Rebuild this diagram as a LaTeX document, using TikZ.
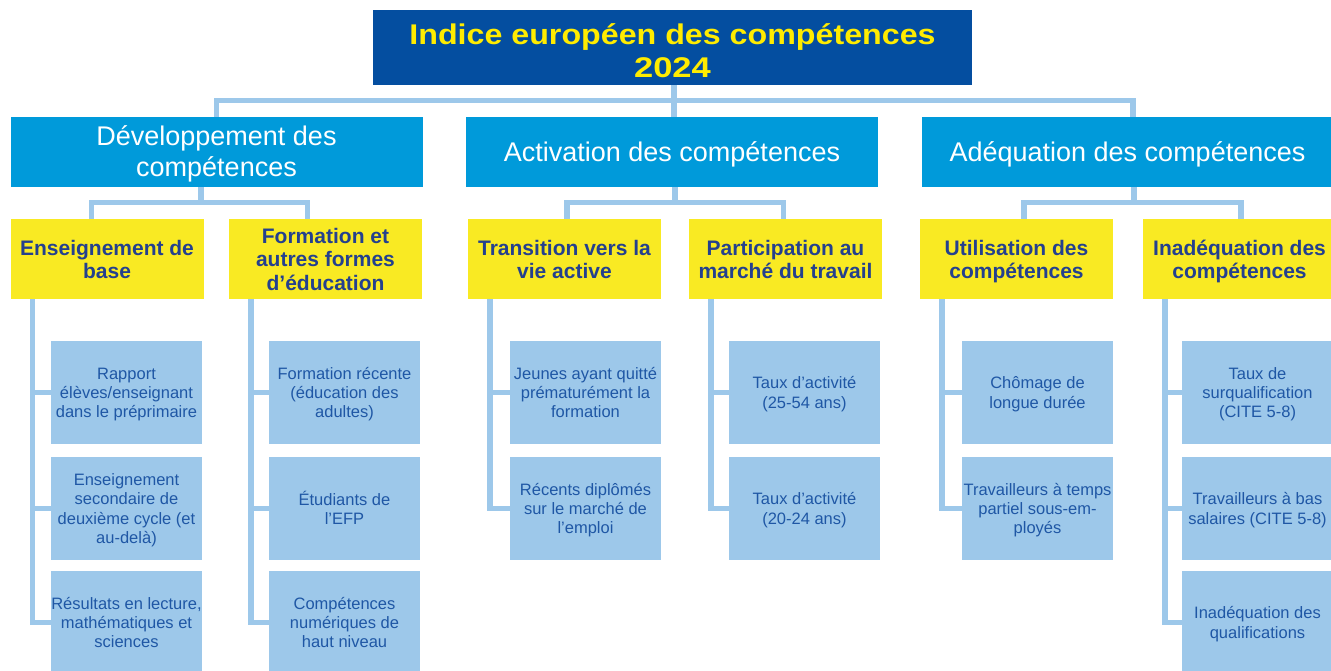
\documentclass[tikz,border=0pt]{standalone}
\usepackage{fontspec}
\setmainfont{Liberation Sans}
\usepackage{graphicx}
\usetikzlibrary{backgrounds}

\definecolor{titleblue}{RGB}{4,78,160}
\definecolor{titleyellow}{RGB}{255,236,0}
\definecolor{pillarblue}{RGB}{0,154,218}
\definecolor{themeyellow}{RGB}{249,234,35}
\definecolor{themenavy}{RGB}{36,64,142}
\definecolor{indblue}{RGB}{157,200,234}
\definecolor{indtext}{RGB}{31,87,165}
\definecolor{connblue}{RGB}{157,200,234}

% centred block of lines, spaced by the current baselineskip;
% the ink is lowered by #1 while the box keeps its natural size
\newcommand\boxlines[2]{\raisebox{-#1}[\height][\depth]{\begin{tabular}{@{}c@{}}#2\end{tabular}}}

\begin{document}
\begin{tikzpicture}[x=1pt,y=-1pt,
  box/.style={inner sep=0pt, outer sep=0pt, anchor=center},
  titlebox/.style={box, fill=titleblue, text=titleyellow,
    minimum width=599pt, minimum height=75pt,
    font=\fontsize{28.5}{33}\selectfont\bfseries},
  pillar/.style={box, fill=pillarblue, text=white,
    minimum width=412pt, minimum height=70pt,
    font=\fontsize{27}{31}\selectfont},
  theme/.style={box, fill=themeyellow, text=themenavy,
    minimum width=193pt, minimum height=80pt,
    font=\fontsize{21}{23.8}\selectfont\bfseries},
  indicator/.style={box, fill=indblue, text=indtext,
    minimum width=151pt, minimum height=103pt,
    font=\fontsize{16.5}{19.4}\selectfont},
  conn/.style={draw=connblue, line width=5.5pt, line join=miter}
]
\useasboundingbox (0,0) rectangle (1331,671);
\clip (0,0) rectangle (1331,671);

% title
\node[titlebox] (title) at (672.5,47.5)
  {\boxlines{6.8pt}{\scalebox{1.13}[1]{Indice européen des compétences}\\
   \scalebox{1.21}[1]{2024}}};

% pillars
\node[pillar] (dev) at (216.5,152) {\boxlines{3.2pt}{Développement des\\compétences}};
\node[pillar] (act) at (672,152)   {\boxlines{3.2pt}{Activation des compétences}};
\node[pillar] (adq) at (1127.5,152){\boxlines{3.2pt}{Adéquation des compétences}};

% themes
\node[theme] (ens)   at (107,259)    {\boxlines{3.2pt}{Enseignement de\\base}};
\node[theme] (form)  at (325.5,259)  {\boxlines{3.2pt}{Formation et\\autres formes\\d’éducation}};
\node[theme] (trans) at (564.5,259)  {\boxlines{3.2pt}{Transition vers la\\vie active}};
\node[theme] (part)  at (785.5,259)  {\boxlines{3.2pt}{Participation au\\marché du travail}};
\node[theme] (util)  at (1016.5,259) {\boxlines{3.2pt}{Utilisation des\\compétences}};
\node[theme] (inad)  at (1239.5,259) {\boxlines{3.2pt}{Inadéquation des\\compétences}};

% indicators
\node[indicator] (e1) at (126.5,392.5) {\boxlines{2.2pt}{Rapport\\élèves/enseignant\\dans le préprimaire}};
\node[indicator] (e2) at (126.5,508.5) {\boxlines{2.2pt}{Enseignement\\secondaire de\\deuxième cycle (et\\au-delà)}};
\node[indicator] (e3) at (126.5,622.5) {\boxlines{2.2pt}{Résultats en lecture,\\mathématiques et\\sciences}};

\node[indicator] (f1) at (344.5,392.5) {\boxlines{2.2pt}{Formation récente\\(éducation des\\adultes)}};
\node[indicator] (f2) at (344.5,508.5) {\boxlines{2.2pt}{Étudiants de\\l’EFP}};
\node[indicator] (f3) at (344.5,622.5) {\boxlines{2.2pt}{Compétences\\numériques de\\haut niveau}};

\node[indicator] (t1) at (585.5,392.5) {\boxlines{2.2pt}{Jeunes ayant quitté\\prématurément la\\formation}};
\node[indicator] (t2) at (585.5,508.5) {\boxlines{2.2pt}{Récents diplômés\\sur le marché de\\l’emploi}};

\node[indicator] (p1) at (804.5,392.5) {\boxlines{2.2pt}{Taux d’activité\\(25-54 ans)}};
\node[indicator] (p2) at (804.5,508.5) {\boxlines{2.2pt}{Taux d’activité\\(20-24 ans)}};

\node[indicator] (u1) at (1037.5,392.5) {\boxlines{2.2pt}{Chômage de\\longue durée}};
\node[indicator] (u2) at (1037.5,508.5) {\boxlines{2.2pt}{Travailleurs à temps\\partiel sous-em-\\ployés}};

\node[indicator] (i1) at (1257.5,392.5) {\boxlines{2.2pt}{Taux de\\surqualification\\(CITE 5-8)}};
\node[indicator] (i2) at (1257.5,508.5) {\boxlines{2.2pt}{Travailleurs à bas\\salaires (CITE 5-8)}};
\node[indicator] (i3) at (1257.5,622.5) {\boxlines{2.2pt}{Inadéquation des\\qualifications}};

% ---------- connectors, behind the boxes ----------
\begin{scope}[on background layer]
  % junction points of the bars
  \coordinate (bar0) at (674,100.5);
  \coordinate (barD) at (201,202.5);
  \coordinate (barA) at (675,202.5);
  \coordinate (barQ) at (1134,202.5);

  % title to pillars
  \draw[conn] (title.south -| bar0) -- (bar0);
  \draw[conn] (dev.north) |- (bar0) -| ([xshift=5.5pt]adq.north);
  \draw[conn] (act.north -| bar0) -- (bar0);

  % pillars to themes
  \draw[conn] (dev.south -| barD) -- (barD);
  \draw[conn] ([xshift=-15.5pt]ens.north) |- (barD) -| ([xshift=-18pt]form.north);
  \draw[conn] (act.south -| barA) -- (barA);
  \draw[conn] ([xshift=2.5pt]trans.north) |- (barA) -| ([xshift=-2pt]part.north);
  \draw[conn] (adq.south -| barQ) -- (barQ);
  \draw[conn] ([xshift=7.5pt]util.north) |- (barQ) -| ([xshift=1.5pt]inad.north);

  % themes to indicators
  \foreach \th/\kids in {ens/{e1,e2,e3}, form/{f1,f2,f3}, trans/{t1,t2},
                         part/{p1,p2}, util/{u1,u2}, inad/{i1,i2,i3}}{
    \foreach \k in \kids {
      \draw[conn] ([xshift=22pt]\th.south west) |- (\k.west);
    }
  }
\end{scope}
\end{tikzpicture}
\end{document}
